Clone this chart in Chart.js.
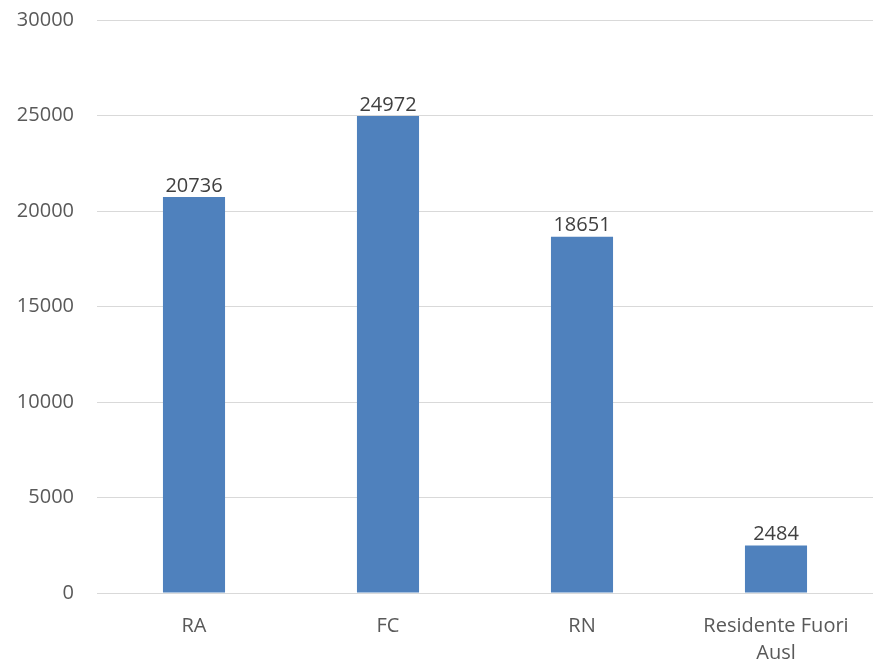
<!DOCTYPE html>
<html>
<head>
<meta charset="utf-8">
<script src="https://cdn.jsdelivr.net/npm/chart.js@4/dist/chart.umd.min.js"></script>
<style>
  html, body { margin: 0; padding: 0; background: #fff; }
  #chart { display: block; }
</style>
</head>
<body>
<canvas id="chart" width="873" height="660"></canvas>
<script>
// data
const categories = ['RA', 'FC', 'RN', ['Residente Fuori', 'Ausl']];
const values = [20736, 24972, 18651, 2484];
const yTicks = [0, 5000, 10000, 15000, 20000, 25000, 30000];

const FONT = '"Open Sans", "Liberation Sans", sans-serif';

// value labels on top of the bars
const barLabels = {
    id: 'barLabels',
    afterDatasetsDraw(chart) {
        const ctx = chart.ctx;
        const meta = chart.getDatasetMeta(0);
        ctx.save();
        ctx.font = '20px ' + FONT;
        ctx.fillStyle = '#404040';
        ctx.textAlign = 'center';
        ctx.textBaseline = 'bottom';
        meta.data.forEach((bar, i) => {
            ctx.fillText(values[i], bar.x, bar.y - 1);
        });
        ctx.restore();
    }
};

new Chart(document.getElementById('chart'), {
    type: 'bar',
    data: {
        labels: categories,
        datasets: [{
            data: values,
            backgroundColor: '#4f81bd',
            barPercentage: 0.32,
            categoryPercentage: 1
        }]
    },
    options: {
        responsive: false,
        animation: false,
        layout: { padding: { top: 20, right: 0, bottom: 0, left: 0 } },
        plugins: {
            legend: { display: false },
            tooltip: { enabled: false }
        },
        scales: {
            y: {
                min: 0,
                max: 30000,
                afterBuildTicks(scale) {
                    scale.ticks = yTicks.map(v => ({ value: v }));
                },
                afterFit(scale) {
                    scale.width = 97;
                    scale.paddingTop = 0;
                    scale.paddingBottom = 0;
                },
                border: { display: false },
                grid: { color: '#d9d9d9', lineWidth: 1, drawTicks: false },
                ticks: {
                    padding: 23,
                    color: '#595959',
                    font: { family: FONT, size: 20 },
                    callback: v => String(v)
                }
            },
            x: {
                afterFit(scale) { scale.height = 67; },
                border: { color: '#d9d9d9' },
                grid: { display: false, drawTicks: false },
                ticks: {
                    padding: 20,
                    color: '#595959',
                    maxRotation: 0,
                    font: { family: FONT, size: 20, lineHeight: 1.35 }
                }
            }
        }
    },
    plugins: [barLabels]
});
</script>
</body>
</html>
